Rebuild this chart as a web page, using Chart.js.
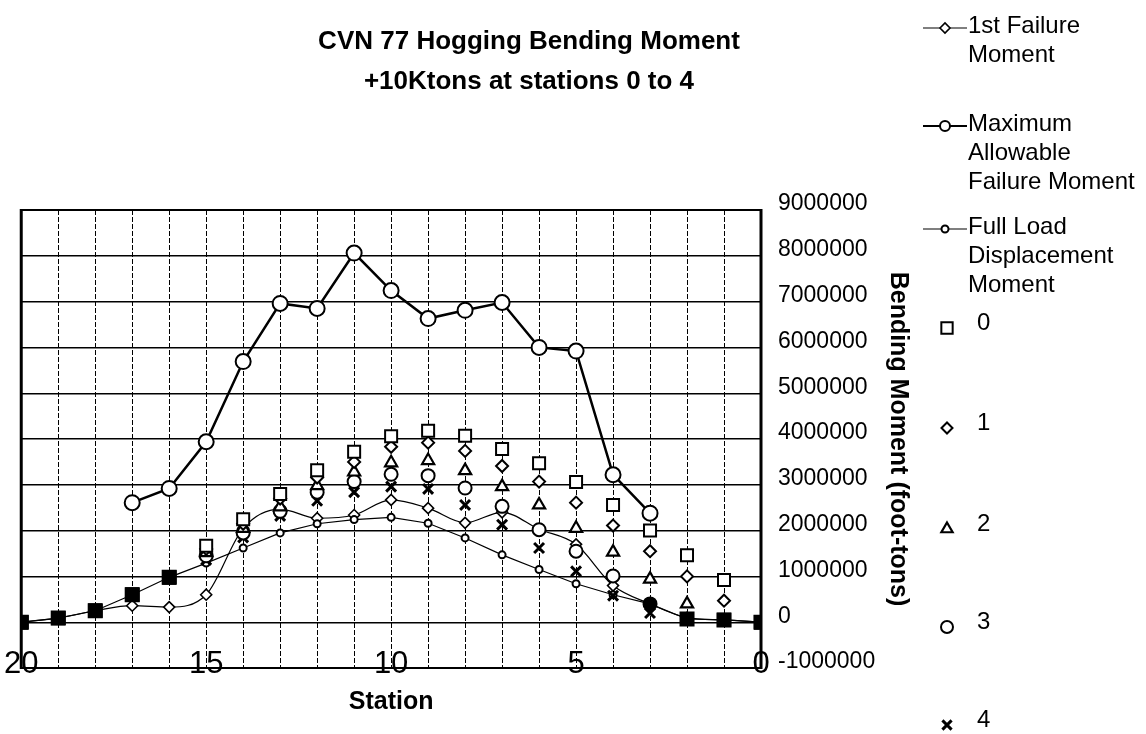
<!DOCTYPE html>
<html lang="en">
<head>
  <meta charset="UTF-8">
  <title>CVN 77 Hogging Bending Moment</title>
  <script src="https://cdn.jsdelivr.net/npm/chart.js@4.4.0/dist/chart.umd.min.js"></script>
  <style>
    html, body { margin: 0; padding: 0; background: #fff; }
  </style>
</head>
<body>
  <canvas id="myChart" width="1146" height="734"></canvas>

  <script>
  // stations run from bow (20) to stern (0), values in foot-tons
  var stations = [20, 19, 18, 17, 16, 15, 14, 13, 12, 11, 10, 9, 8, 7, 6, 5, 4, 3, 2, 1, 0];

  var firstFailure = [0, 90000, 250000, 360000, 330000, 600000, 2050000, 2470000, 2270000, 2340000, 2670000,
                      2490000, 2170000, 2400000, 2030000, 1700000, 800000, 400000, 100000, 50000, 0];
  var maxAllowable = [null, null, null, 2610000, 2920000, 3940000, 5690000, 6960000, 6850000, 8060000, 7240000,
                      6630000, 6810000, 6980000, 6000000, 5920000, 3220000, 2380000, null, null, null];
  var fullLoad     = [0, 90000, 250000, 600000, 980000, 1290000, 1620000, 1950000, 2150000, 2240000, 2290000,
                      2160000, 1840000, 1470000, 1150000, 840000, 600000, 400000, 70000, 50000, 0];

  var load0 = [0, 90000, 250000, 600000, 980000, 1670000, 2250000, 2800000, 3320000, 3720000, 4060000,
               4180000, 4070000, 3780000, 3470000, 3060000, 2560000, 2000000, 1460000, 920000, 0];
  var load1 = [0, 90000, 250000, 600000, 980000, 1600000, 2150000, 2700000, 3160000, 3500000, 3830000,
               3920000, 3740000, 3410000, 3070000, 2610000, 2110000, 1550000, 1000000, 470000, 0];
  var load2 = [0, 90000, 250000, 600000, 980000, 1520000, 2050000, 2520000, 2980000, 3280000, 3480000,
               3530000, 3310000, 2960000, 2560000, 2050000, 1530000, 940000, 400000, 50000, 0];
  var load3 = [0, 90000, 250000, 600000, 980000, 1450000, 1950000, 2420000, 2840000, 3070000, 3230000,
               3200000, 2930000, 2530000, 2020000, 1550000, 1010000, 400000, 70000, 50000, 0];
  var load4 = [0, 90000, 250000, 600000, 980000, 1360000, 1850000, 2320000, 2650000, 2840000, 2960000,
               2910000, 2560000, 2130000, 1620000, 1110000, 580000, 200000, 70000, 50000, 0];

  var yTicks = [-1000000, 0, 1000000, 2000000, 3000000, 4000000, 5000000, 6000000, 7000000, 8000000, 9000000];
  var xLabelStations = [20, 15, 10, 5, 0];

  var FONT = '"Liberation Sans", Arial, sans-serif';
  var INK = '#000';
  var loads = [load0, load1, load2, load3, load4];

  function points(arr) {
    var out = [];
    for (var i = 0; i < stations.length; i++) {
      if (arr[i] !== null) out.push({x: stations[i], y: arr[i]});
    }
    return out;
  }

  // how many loaded cases sit exactly on the full load curve at a station
  function onLoadCount(i) {
    var n = 0;
    loads.forEach(function(a) { if (a[i] === fullLoad[i]) n++; });
    return n;
  }

  function onLoad(c) {
    if (!c.raw) return false;
    var i = stations.indexOf(c.raw.x);
    return c.raw.y === fullLoad[i];
  }

  // coincident points print as a solid blob, several of them as a solid square
  function fillOnLoad(c) { return onLoad(c) ? INK : '#fff'; }
  function styleOnLoad(base) {
    return function(c) {
      if (onLoad(c) && onLoadCount(stations.indexOf(c.raw.x)) > 1) return 'rect';
      return base;
    };
  }
  function radiusOnLoad(base) {
    return function(c) {
      if (onLoad(c) && onLoadCount(stations.indexOf(c.raw.x)) > 1) return 8.5;
      return base;
    };
  }

  function scatterSet(label, arr, style, r, bw, order) {
    return {
      label: label, data: points(arr), showLine: false,
      baseStyle: style, baseRadius: r,
      pointStyle: styleOnLoad(style), pointRadius: radiusOnLoad(r), pointBorderWidth: bw,
      borderColor: INK, backgroundColor: fillOnLoad,
      pointBackgroundColor: fillOnLoad, order: order
    };
  }

  var datasets = [
    {label: '1st Failure Moment', data: points(firstFailure), showLine: true,
     borderColor: INK, borderWidth: 1.2, cubicInterpolationMode: 'monotone',
     pointStyle: 'rectRot', pointRadius: 5.5, pointBorderWidth: 1.6,
     pointBackgroundColor: '#fff', backgroundColor: '#fff', order: 7},
    {label: 'Maximum Allowable Failure Moment', data: points(maxAllowable), showLine: true,
     borderColor: INK, borderWidth: 2.5, tension: 0,
     pointStyle: 'circle', pointRadius: 7.5, pointBorderWidth: 2,
     pointBackgroundColor: '#fff', backgroundColor: '#fff', order: 8},
    {label: 'Full Load Displacement Moment', data: points(fullLoad), showLine: true,
     borderColor: INK, borderWidth: 1.2, tension: 0,
     pointStyle: 'circle', pointRadius: 3.5, pointBorderWidth: 2,
     pointBackgroundColor: '#fff', backgroundColor: '#fff', order: 6},
    scatterSet('0', load0, 'rect', 8.5, 2, 1),
    scatterSet('1', load1, 'rectRot', 6, 2, 2),
    scatterSet('2', load2, 'triangle', 7, 2.2, 3),
    scatterSet('3', load3, 'circle', 6.5, 2, 4),
    scatterSet('4', load4, 'crossRot', 7, 3, 5)
  ];

  var legendLayout = [
    {ds: 0, lines: ['1st Failure', 'Moment'], y: 28},
    {ds: 1, lines: ['Maximum', 'Allowable', 'Failure Moment'], y: 126},
    {ds: 2, lines: ['Full Load', 'Displacement', 'Moment'], y: 229},
    {ds: 3, lines: ['0'], y: 328},
    {ds: 4, lines: ['1'], y: 428},
    {ds: 5, lines: ['2'], y: 529},
    {ds: 6, lines: ['3'], y: 627},
    {ds: 7, lines: ['4'], y: 725}
  ];

  var framePlugin = {
    id: 'frame',
    beforeDatasetsDraw: function(chart) {
      var a = chart.chartArea, ctx = chart.ctx;
      ctx.save();
      ctx.strokeStyle = INK;
      ctx.lineWidth = 2;
      ctx.beginPath();
      ctx.moveTo(a.left, a.top); ctx.lineTo(a.right, a.top);
      ctx.moveTo(a.left, a.bottom); ctx.lineTo(a.right, a.bottom);
      ctx.stroke();
      ctx.lineWidth = 3;
      ctx.beginPath();
      ctx.moveTo(a.left, a.top - 1); ctx.lineTo(a.left, a.bottom + 1);
      ctx.moveTo(a.right, a.top - 1); ctx.lineTo(a.right, a.bottom + 1);
      ctx.stroke();
      ctx.restore();
    }
  };

  var sidePlugin = {
    id: 'side',
    afterDraw: function(chart) {
      var ctx = chart.ctx;
      ctx.save();
      ctx.fillStyle = INK;
      ctx.textAlign = 'center';
      ctx.textBaseline = 'middle';
      ctx.font = 'bold 26px ' + FONT;
      ctx.fillText('CVN 77 Hogging Bending Moment', 529, 42);
      ctx.fillText('+10Ktons at stations 0 to 4', 529, 82);

      ctx.textAlign = 'left';
      ctx.font = '24px ' + FONT;
      legendLayout.forEach(function(item) {
        var ds = chart.data.datasets[item.ds];
        ctx.strokeStyle = INK;
        if (ds.showLine) {
          ctx.lineWidth = Math.min(ds.borderWidth, 2);
          ctx.beginPath();
          ctx.moveTo(923, item.y); ctx.lineTo(967, item.y);
          ctx.stroke();
          ctx.fillStyle = '#fff';
          ctx.lineWidth = ds.pointBorderWidth;
          Chart.helpers.drawPoint(ctx, {pointStyle: ds.pointStyle, radius: Math.min(ds.pointRadius, 5),
            borderWidth: ds.pointBorderWidth, rotation: 0}, 945, item.y);
          ctx.fillStyle = INK;
          item.lines.forEach(function(t, k) { ctx.fillText(t, 968, item.y - 2 + k * 29); });
        } else {
          ctx.fillStyle = '#fff';
          ctx.lineWidth = ds.pointBorderWidth;
          Chart.helpers.drawPoint(ctx, {pointStyle: ds.baseStyle, radius: ds.baseRadius - 0.5,
            borderWidth: ds.pointBorderWidth, rotation: 0}, 947, item.y);
          ctx.fillStyle = INK;
          ctx.fillText(item.lines[0], 977, item.y - 5);
        }
      });
      ctx.restore();
    }
  };

  var ctx = document.getElementById('myChart');
  var myChart = new Chart(ctx, {
    type: 'scatter',
    data: { datasets: datasets },
    plugins: [framePlugin, sidePlugin],
    options: {
      responsive: false,
      animation: false,
      devicePixelRatio: 1,
      layout: { padding: { left: 21, top: 210, right: 233, bottom: 17 } },
      plugins: { legend: { display: false }, tooltip: { enabled: false }, title: { display: false } },
      scales: {
        x: {
          type: 'linear', reverse: true, min: 0, max: 20,
          afterFit: function(s) { s.height = 49; },
          grid: { color: INK, lineWidth: 1, drawTicks: false, borderDash: [5, 2] },
          border: { display: false, dash: [5, 2] },
          ticks: {
            stepSize: 1, autoSkip: false, maxRotation: 0, mirror: true, crossAlign: 'center',
            padding: 4, color: INK,
            font: { family: FONT, size: 31 },
            callback: function(v) { return xLabelStations.indexOf(v) >= 0 ? String(v) : ''; }
          },
          title: { display: true, text: 'Station', color: INK, padding: 0,
                   font: { family: FONT, size: 25, weight: 'bold' } }
        },
        y: {
          type: 'linear', position: 'right', min: yTicks[0], max: yTicks[yTicks.length - 1],
          afterFit: function(s) { s.width = 152; },
          afterBuildTicks: function(s) { s.ticks = yTicks.map(function(v) { return {value: v}; }); },
          grid: { color: INK, lineWidth: 1.4, drawTicks: false },
          border: { display: false },
          ticks: {
            padding: 17, labelOffset: -6, color: INK,
            font: { family: FONT, size: 23 },
            callback: function(v) { return String(v); }
          },
          title: { display: true, text: 'Bending Moment (foot-tons)', color: INK, padding: 0,
                   font: { family: FONT, size: 25, weight: 'bold' } }
        }
      }
    }
  });
  </script>
</body>
</html>
